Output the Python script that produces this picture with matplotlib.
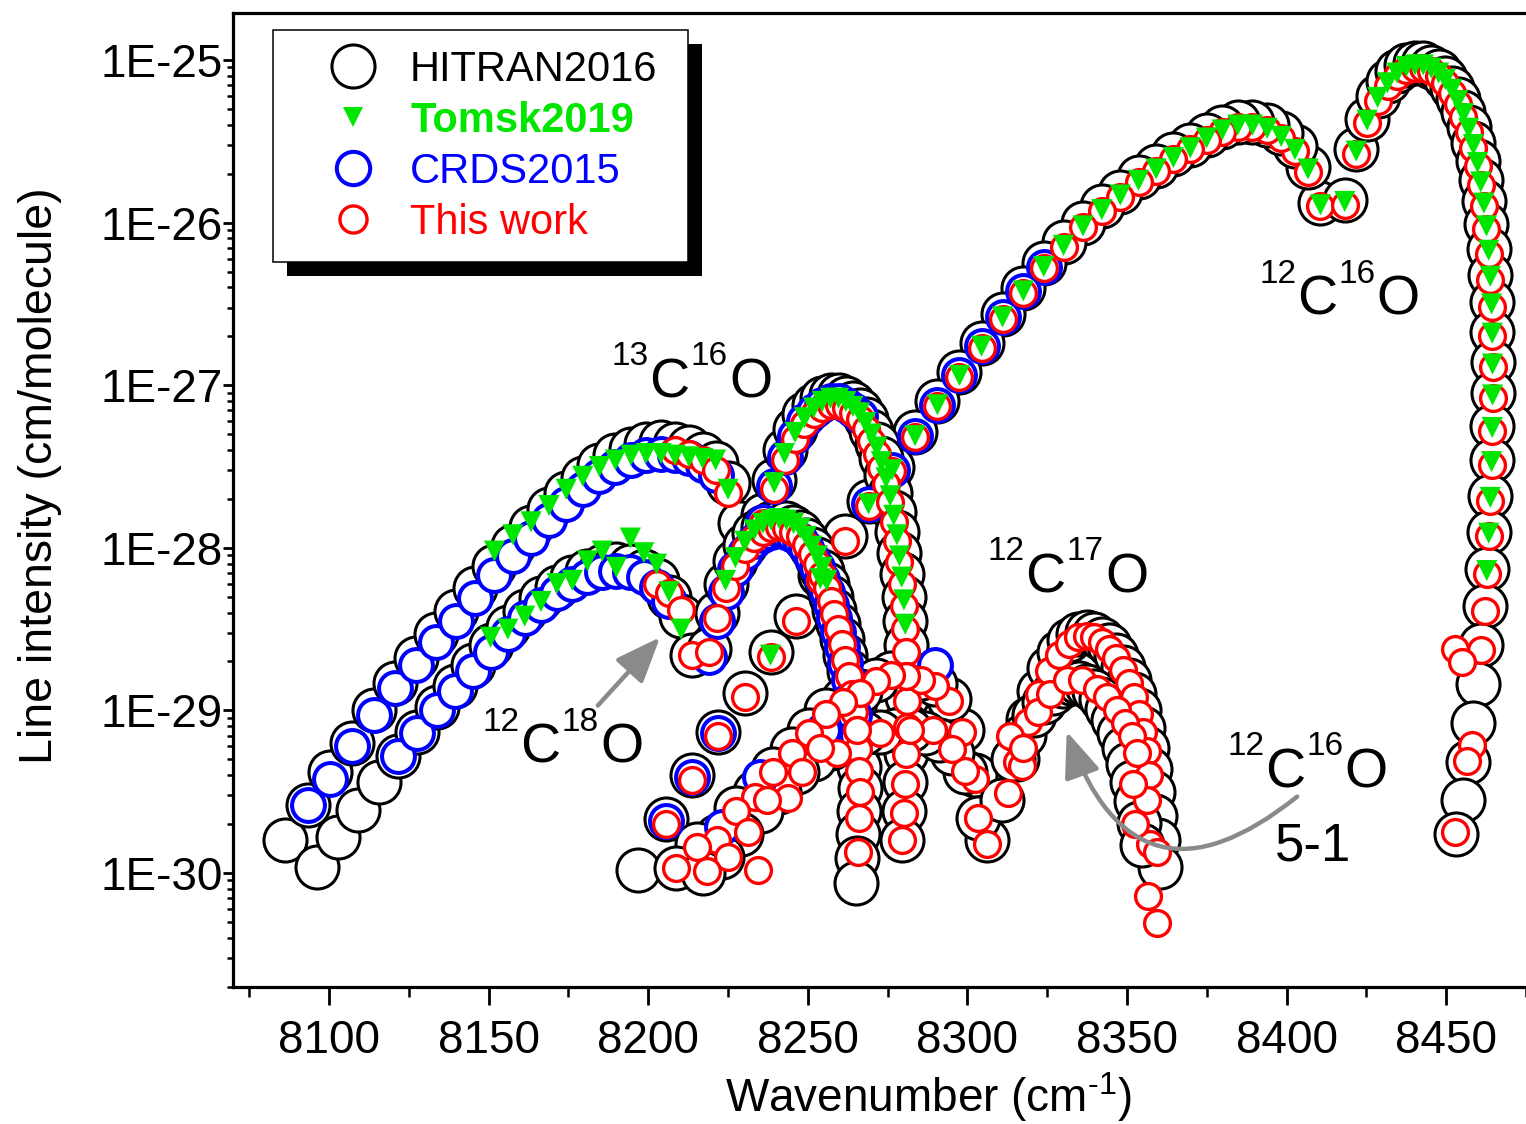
import numpy as np
import matplotlib
matplotlib.use('Agg')
import matplotlib.pyplot as plt
from matplotlib.lines import Line2D
from matplotlib.patches import Rectangle
from matplotlib.ticker import FixedLocator, FuncFormatter, MultipleLocator, NullFormatter

plt.rcParams['font.family'] = ['Liberation Sans', 'DejaVu Sans']
plt.rcParams['mathtext.fontset'] = 'custom'
plt.rcParams['mathtext.rm'] = 'Liberation Sans'
plt.rcParams['mathtext.default'] = 'regular'

# ------------------------------------------------------------------ data
# wavenumbers (cm-1) and log10 of line intensity (cm/molecule)

# 12C16O 4-0, P branch
co_P_wn = [8410.6, 8406.7, 8402.6, 8398.3, 8393.9, 8389.3, 8384.7, 8379.8, 8374.9, 8369.8,
           8364.5, 8359.1, 8353.6, 8347.9, 8342.1, 8336.2, 8330.1, 8323.9, 8317.5, 8311.0,
           8304.4, 8297.5, 8290.6, 8283.6, 8276.4, 8269.0, 8261.5, 8253.9, 8246.2, 8238.3,
           8230.2, 8222.0, 8213.8, 8205.4, 8196.7]
hit_co_P = [-25.88, -25.66, -25.53, -25.45, -25.40, -25.38, -25.38, -25.41, -25.46, -25.52,
            -25.58, -25.65, -25.72, -25.81, -25.90, -26.00, -26.12, -26.25, -26.40, -26.56,
            -26.74, -26.92, -27.10, -27.29, -27.50, -27.71, -27.93, -28.17, -28.42, -28.64,
            -28.89, -29.13, -29.40, -29.67, -29.98]
tw_co_P_wn = co_P_wn[:34]
tw_co_P = [-25.90, -25.69, -25.56, -25.48, -25.43, -25.41, -25.41, -25.44, -25.49, -25.55,
           -25.61, -25.68, -25.75, -25.84, -25.93, -26.03, -26.15, -26.28, -26.43, -26.59,
           -26.77, -26.95, -27.13, -27.32, -27.53, -27.74, -27.96, -28.20, -28.45, -28.67,
           -28.92, -29.16, -29.43, -29.70]
tk_co_P_wn = co_P_wn[:26] + [8253.9, 8238.3]
tk_co_P = [-25.89, -25.67, -25.55, -25.47, -25.42, -25.40, -25.40, -25.43, -25.48, -25.54,
           -25.60, -25.67, -25.74, -25.83, -25.92, -26.02, -26.14, -26.27, -26.42, -26.58,
           -26.76, -26.94, -27.12, -27.31, -27.52, -27.73, -28.19, -28.66]
cr_co_P_wn = [8323.9, 8317.5, 8311.0, 8304.4, 8297.5, 8290.6, 8283.6, 8276.4, 8269.0,
              8222.0, 8213.8, 8205.4]
cr_co_P = [-26.27, -26.42, -26.58, -26.76, -26.94, -27.12, -27.31, -27.52, -27.73,
           -29.14, -29.41, -29.68]

# 12C16O 4-0, R branch
co_R_wn = [8418.2, 8421.8, 8425.2, 8428.5, 8431.6, 8434.6, 8437.5, 8440.2, 8442.8, 8445.3,
           8447.6, 8449.7, 8451.8, 8453.6, 8455.4, 8457.0, 8458.5, 8459.8, 8460.8, 8461.8,
           8462.6, 8463.3, 8463.8, 8464.2, 8464.4, 8464.5, 8464.5, 8464.4, 8464.2, 8463.8,
           8463.3, 8462.7, 8462.0, 8461.0, 8459.8, 8458.4, 8456.9, 8455.2, 8453.0]
hit_co_R = [-25.86, -25.55, -25.36, -25.22, -25.13, -25.07, -25.03, -25.02, -25.02, -25.04,
            -25.07, -25.11, -25.17, -25.24, -25.32, -25.41, -25.51, -25.62, -25.74, -25.87,
            -26.01, -26.16, -26.32, -26.49, -26.67, -26.86, -27.05, -27.25, -27.46, -27.68,
            -27.90, -28.13, -28.36, -28.60, -28.84, -29.08, -29.32, -29.55, -29.76]
tw_co_R_wn = co_R_wn[:34] + [8452.6, 8455.0, 8458.2, 8456.4, 8452.6]
tw_co_R = [-25.89, -25.58, -25.39, -25.25, -25.16, -25.10, -25.06, -25.05, -25.05, -25.07,
           -25.10, -25.14, -25.20, -25.27, -25.35, -25.44, -25.54, -25.65, -25.77, -25.90,
           -26.04, -26.19, -26.35, -26.52, -26.70, -26.89, -27.08, -27.28, -27.49, -27.71,
           -27.93, -28.16, -28.39, -28.63, -28.62, -28.70, -29.21, -29.31, -29.75]
tk_co_R_wn = co_R_wn[:32]
tk_co_R = [-25.87, -25.56, -25.37, -25.23, -25.14, -25.08, -25.04, -25.03, -25.03, -25.05,
           -25.08, -25.12, -25.18, -25.25, -25.33, -25.42, -25.52, -25.63, -25.75, -25.88,
           -26.02, -26.17, -26.33, -26.50, -26.68, -26.87, -27.06, -27.26, -27.47, -27.69,
           -27.91, -28.14]

# 13C16O 4-0, P branch
c13_P_wn = [8086.2, 8093.4, 8100.4, 8107.3, 8114.0, 8120.7, 8127.2, 8133.5, 8139.7, 8145.8,
            8151.8, 8157.6, 8163.3, 8168.9, 8174.3, 8179.5, 8184.7, 8189.7, 8194.6, 8199.3,
            8204.0, 8208.4, 8212.8, 8217.0, 8221.1, 8225.0, 8228.8]
hit_c13_P = [-29.80, -29.58, -29.38, -29.20, -29.00, -28.83, -28.68, -28.53, -28.39, -28.25,
             -28.11, -27.99, -27.87, -27.76, -27.66, -27.57, -27.49, -27.43, -27.39, -27.36,
             -27.35, -27.36, -27.38, -27.42, -27.48, -27.60, -27.85]
cr_c13_P_wn = c13_P_wn[1:25]
cr_c13_P = [-29.58, -29.42, -29.22, -29.03, -28.86, -28.72, -28.58, -28.45, -28.31, -28.17,
            -28.05, -27.94, -27.83, -27.73, -27.64, -27.56, -27.50, -27.46, -27.43, -27.42,
            -27.43, -27.45, -27.49, -27.55]
tk_c13_P_wn = c13_P_wn[10:26]
tk_c13_P = [-28.02, -27.92, -27.84, -27.74, -27.64, -27.56, -27.50, -27.46, -27.43, -27.42,
            -27.42, -27.43, -27.44, -27.45, -27.46, -27.64]
tw_c13_P_wn = [8208.4, 8212.8, 8217.0, 8221.1, 8225.0]
tw_c13_P = [-27.40, -27.42, -27.46, -27.52, -27.66]

# 13C16O 4-0, R branch
c13_R_wn = [8236.0, 8239.5, 8242.7, 8246.0, 8248.9, 8251.8, 8254.5, 8257.1, 8259.6, 8261.9,
            8264.1, 8266.2, 8268.1, 8269.9, 8271.6, 8273.0, 8274.5, 8275.8, 8276.9, 8277.9,
            8278.7, 8279.4, 8280.1, 8280.5, 8280.9, 8281.0, 8281.1, 8281.0, 8280.8, 8280.5,
            8280.0, 8279.4]
hit_c13_R = [-27.80, -27.58, -27.40, -27.27, -27.18, -27.12, -27.08, -27.06, -27.06, -27.08,
             -27.11, -27.15, -27.21, -27.28, -27.36, -27.45, -27.55, -27.66, -27.78, -27.90,
             -28.03, -28.16, -28.30, -28.45, -28.60, -28.76, -28.92, -29.09, -29.26, -29.44,
             -29.62, -29.80]
tw_c13_R = [-27.85, -27.64, -27.46, -27.33, -27.24, -27.18, -27.14, -27.12, -27.12, -27.14,
            -27.17, -27.21, -27.27, -27.34, -27.42, -27.51, -27.61, -27.72, -27.84, -27.96,
            -28.09, -28.22, -28.36, -28.50, -28.64, -28.79, -28.94, -29.10, -29.27, -29.45,
            -29.63, -29.80]
tk_c13_R_wn = c13_R_wn[1:24]
tk_c13_R = [-27.60, -27.42, -27.29, -27.20, -27.14, -27.10, -27.08, -27.08, -27.10, -27.13,
            -27.17, -27.23, -27.30, -27.38, -27.47, -27.57, -27.68, -27.80, -27.92, -28.05,
            -28.18, -28.32, -28.47]
cr_c13_R_wn = c13_R_wn[:12]
cr_c13_R = [-27.84, -27.62, -27.44, -27.31, -27.22, -27.16, -27.12, -27.10, -27.10, -27.12,
            -27.15, -27.19]

# 12C18O 4-0, P branch
c18_P_wn = [8096.1, 8102.7, 8109.2, 8115.5, 8121.7, 8127.7, 8133.7, 8139.5, 8145.1, 8150.6,
            8156.0, 8161.3, 8166.4, 8171.4, 8176.2, 8180.9, 8185.6, 8190.0, 8194.4, 8198.6,
            8202.6, 8206.5, 8210.3, 8213.7]
hit_c18_P = [-29.96, -29.78, -29.61, -29.44, -29.28, -29.13, -28.98, -28.85, -28.72, -28.60,
             -28.49, -28.39, -28.31, -28.24, -28.18, -28.14, -28.11, -28.10, -28.11, -28.14,
             -28.20, -28.30, -28.42, -28.66]
cr_c18_P_wn = c18_P_wn[4:22]
cr_c18_P = [-29.28, -29.14, -29.00, -28.88, -28.76, -28.64, -28.53, -28.43, -28.35, -28.28,
            -28.22, -28.18, -28.15, -28.14, -28.15, -28.18, -28.24, -28.33]
tk_c18_P_wn = c18_P_wn[9:23]
tk_c18_P = [-28.55, -28.50, -28.42, -28.33, -28.22, -28.20, -28.08, -28.02, -28.12, -27.94,
            -28.03, -28.10, -28.27, -28.50]
tw_c18_P_wn = [8202.6, 8206.5, 8210.3, 8213.7]
tw_c18_P = [-28.22, -28.28, -28.38, -28.66]

# 12C18O 4-0, R branch
c18_R_wn = [8219.0, 8221.5, 8224.2, 8227.3, 8230.3, 8233.2, 8235.9, 8238.5, 8241.0, 8243.3,
            8245.5, 8247.6, 8249.5, 8251.3, 8253.0, 8254.5, 8255.9, 8257.2, 8258.3, 8259.5,
            8260.6, 8261.7, 8262.8, 8263.8, 8264.6, 8265.3, 8265.8, 8266.1, 8266.2, 8266.1,
            8265.8, 8265.4, 8265.0]
hit_c18_R = [-28.62, -28.40, -28.22, -28.08, -27.98, -27.91, -27.87, -27.85, -27.84, -27.85,
             -27.87, -27.90, -27.95, -28.01, -28.07, -28.14, -28.22, -28.30, -28.38, -28.47,
             -28.56, -28.66, -28.76, -28.87, -28.98, -29.10, -29.22, -29.35, -29.48, -29.62,
             -29.76, -29.91, -30.06]
tw_c18_R_wn = c18_R_wn[:31]
tw_c18_R = [-28.64, -28.43, -28.25, -28.11, -28.01, -27.94, -27.90, -27.88, -27.87, -27.88,
            -27.90, -27.93, -27.98, -28.04, -28.10, -28.17, -28.25, -28.33, -28.41, -28.50,
            -28.59, -28.69, -28.79, -28.90, -29.01, -29.12, -29.24, -29.37, -29.50, -29.66,
            -29.87]
tk_c18_R_wn = c18_R_wn[2:17]
tk_c18_R = [-28.20, -28.06, -27.96, -27.89, -27.85, -27.83, -27.82, -27.83, -27.85, -27.88,
            -27.93, -27.99, -28.05, -28.12, -28.20]
cr_c18_R_wn = c18_R_wn[:26]
cr_c18_R = [-28.67, -28.45, -28.27, -28.13, -28.03, -27.96, -27.92, -27.90, -27.89, -27.90,
            -27.92, -27.95, -28.00, -28.06, -28.12, -28.19, -28.27, -28.35, -28.43, -28.52,
            -28.61, -28.71, -28.81, -28.92, -29.03, -29.15]

# 12C17O 4-0, P branch
c17_P_wn = [8306.2, 8302.3, 8298.3, 8294.1, 8289.8, 8285.4, 8280.8, 8276.0, 8271.2, 8266.2,
            8261.1, 8255.8, 8250.4, 8244.9, 8239.2, 8233.4, 8227.4, 8221.4, 8215.2, 8208.8]
hit_c17_P = [-29.80, -29.40, -29.12, -28.93, -28.84, -28.80, -28.78, -28.77, -28.81, -28.88,
             -28.93, -29.00, -29.12, -29.24, -29.36, -29.50, -29.60, -29.77, -29.82, -29.97]
tw_c17_P = [-29.82, -29.42, -29.13, -28.94, -28.85, -28.81, -28.79, -28.78, -28.82, -28.89,
            -28.95, -29.02, -29.14, -29.26, -29.38, -29.53, -29.62, -29.80, -29.84, -29.97]
cr_c17_P_wn = [8289.8, 8254.7, 8235.0, 8223.0]
cr_c17_P = [-28.72, -29.12, -29.41, -29.72]

# 12C17O 4-0, R branch
c17_R_wn = [8315.6, 8319.1, 8322.5, 8325.7, 8328.8, 8331.8, 8334.6, 8337.3, 8339.8, 8342.2,
            8344.5, 8346.6, 8348.6, 8350.5, 8352.2, 8353.8, 8355.0, 8356.2, 8357.2, 8358.1,
            8358.9, 8359.6, 8360.2]
hit_c17_R = [-29.30, -29.05, -28.88, -28.74, -28.64, -28.57, -28.53, -28.52, -28.53, -28.56,
             -28.60, -28.66, -28.73, -28.81, -28.90, -29.00, -29.11, -29.23, -29.36, -29.50,
             -29.65, -29.80, -29.96]
tw_c17_R_wn = [8315.6, 8319.1, 8322.5, 8325.7, 8328.8, 8331.8, 8334.6, 8337.3, 8339.8, 8342.2,
               8344.5, 8346.6, 8348.6, 8350.5, 8352.2, 8353.8, 8355.0, 8356.2, 8357.0, 8356.2,
               8357.1, 8359.3, 8356.5, 8359.3]
tw_c17_R = [-29.32, -29.07, -28.90, -28.76, -28.66, -28.59, -28.55, -28.54, -28.55, -28.58,
            -28.62, -28.68, -28.75, -28.83, -28.92, -29.02, -29.13, -29.25, -29.40, -29.55,
            -29.82, -29.87, -30.14, -30.31]

# 12C16O 5-1 hot band, P branch
hb_P_wn = [8303.2, 8299.2, 8295.2, 8291.0, 8286.6, 8282.0, 8277.4, 8272.6, 8267.7, 8262.6,
           8257.4, 8252.0, 8246.5, 8240.9, 8235.2, 8229.2, 8223.2, 8217.0]
hit_hb_P = [-29.66, -29.38, -29.26, -29.18, -29.14, -29.12, -29.12, -29.13, -29.14, -29.18,
            -29.23, -29.30, -29.38, -29.50, -29.62, -29.76, -29.90, -30.00]
tw_hb_P_wn = [8303.2, 8299.2, 8295.2, 8289.2, 8282.0, 8272.6, 8265.4, 8259.1, 8253.8, 8248.1,
              8243.8, 8237.2, 8231.2, 8225.0, 8218.4, 8234.4]
tw_hb_P = [-29.66, -29.37, -29.24, -29.12, -29.12, -29.14, -29.12, -29.26, -29.23, -29.38,
           -29.54, -29.55, -29.75, -29.90, -29.99, -29.98]

# 12C16O 5-1 hot band, R branch
hb_R_wn = [8310.7, 8314.2, 8317.6, 8320.8, 8324.0, 8326.9, 8329.8, 8332.4, 8335.0, 8337.4,
           8339.7, 8341.8, 8343.8, 8345.6, 8347.4, 8348.9, 8350.3, 8351.6, 8352.8, 8353.8,
           8354.7]
hit_hb_R = [-29.55, -29.30, -29.15, -29.03, -28.95, -28.89, -28.85, -28.83, -28.83, -28.85,
            -28.88, -28.93, -28.99, -29.06, -29.14, -29.23, -29.33, -29.44, -29.56, -29.69,
            -29.83]
tw_hb_R_wn = [8312.6, 8313.3, 8317.0, 8317.3, 8322.0, 8326.0, 8331.1, 8335.8, 8340.5, 8343.6,
              8346.8, 8349.3, 8351.5, 8353.1, 8351.8, 8352.5]
tw_hb_R = [-29.51, -29.16, -29.34, -29.23, -29.01, -28.90, -28.81, -28.81, -28.87, -28.92,
           -29.00, -29.08, -29.16, -29.26, -29.45, -29.70]

series_labels = ['HITRAN2016', 'Tomsk2019', 'CRDS2015', 'This work']
tick_wn = [8100, 8150, 8200, 8250, 8300, 8350, 8400, 8450]
tick_decades = [-30, -29, -28, -27, -26, -25]

# ------------------------------------------------------------------ assemble
def cat(*pairs):
    w, l = [], []
    for a, b in pairs:
        w += list(a)
        l += list(b)
    return np.array(w), 10.0 ** np.array(l)

hit_x, hit_y = cat((co_P_wn, hit_co_P), (co_R_wn, hit_co_R), (c13_P_wn, hit_c13_P),
                   (c13_R_wn, hit_c13_R), (c18_P_wn, hit_c18_P), (c18_R_wn, hit_c18_R),
                   (c17_P_wn, hit_c17_P), (c17_R_wn, hit_c17_R), (hb_P_wn, hit_hb_P),
                   (hb_R_wn, hit_hb_R))
cr_x, cr_y = cat((cr_co_P_wn, cr_co_P), (cr_c13_P_wn, cr_c13_P), (cr_c13_R_wn, cr_c13_R),
                 (cr_c18_P_wn, cr_c18_P), (cr_c18_R_wn, cr_c18_R), (cr_c17_P_wn, cr_c17_P))
tw_x, tw_y = cat((tw_co_P_wn, tw_co_P), (tw_co_R_wn, tw_co_R), (tw_c13_P_wn, tw_c13_P),
                 (c13_R_wn, tw_c13_R), (tw_c18_P_wn, tw_c18_P), (tw_c18_R_wn, tw_c18_R),
                 (c17_P_wn, tw_c17_P), (tw_c17_R_wn, tw_c17_R), (tw_hb_P_wn, tw_hb_P),
                 (tw_hb_R_wn, tw_hb_R))
tk_x, tk_y = cat((tk_co_P_wn, tk_co_P), (tk_co_R_wn, tk_co_R), (tk_c13_P_wn, tk_c13_P),
                 (tk_c13_R_wn, tk_c13_R), (tk_c18_P_wn, tk_c18_P), (tk_c18_R_wn, tk_c18_R))

# ------------------------------------------------------------------ figure
GREEN = '#00E600'
GRAY = '#8A8A8A'
W, H = 1526, 1124
fig = plt.figure(figsize=(W / 100, H / 100), dpi=100)
ax = fig.add_axes([233 / W, 137 / H, 1309 / W, 974.3 / H])

ax.scatter(hit_x, hit_y, s=960, facecolors='white', edgecolors='black', linewidths=2.2, zorder=2)
ax.scatter(cr_x, cr_y, s=560, facecolors='white', edgecolors='#0000FF', linewidths=2.9, zorder=3)
ax.scatter(tw_x, tw_y, s=345, facecolors='white', edgecolors='#FF0000', linewidths=2.4, zorder=4)
ax.scatter(tk_x, tk_y, s=230, marker='v', facecolors=GREEN, edgecolors='none', zorder=5)

ax.set_yscale('log')
ylo, yhi = 10 ** -30.701, 10 ** -24.709
ax.set_xlim(8069.9, 8480)
ax.set_ylim(ylo, yhi)

ax.set_xticks(tick_wn)
ax.xaxis.set_minor_locator(MultipleLocator(25))
ax.yaxis.set_major_locator(FixedLocator([10.0 ** e for e in tick_decades]))
minor_y = [m * 10.0 ** e for e in range(-31, -24) for m in range(2, 10)
           if ylo <= m * 10.0 ** e <= yhi]
ax.yaxis.set_minor_locator(FixedLocator(minor_y))
ax.yaxis.set_major_formatter(FuncFormatter(lambda v, p: '1E%d' % int(round(np.log10(v)))))
ax.yaxis.set_minor_formatter(NullFormatter())

ax.tick_params(axis='both', which='major', labelsize=33, width=2.0, direction='out')
ax.tick_params(axis='both', which='minor', width=1.8, direction='out')
ax.tick_params(axis='x', which='major', length=13, pad=10)
ax.tick_params(axis='x', which='minor', length=7)
ax.tick_params(axis='y', which='major', length=7, pad=0.5)
ax.tick_params(axis='y', which='minor', length=4)
for sp in ax.spines.values():
    sp.set_linewidth(2.3)

ax.set_xlabel('Wavenumber (cm$^{\\text{-}1}$)', fontsize=33)
ax.set_ylabel('Line intensity (cm/molecule)', fontsize=33.5)
ax.xaxis.set_label_coords((928 - 233) / 1309, -(1070 - 987) / 974.3)
ax.yaxis.set_label_coords(-(233 - 62) / 1309, 0.525)

# isotopologue labels built from pieces (small superscripts)
def iso_label(x, lg, m1, m2, size=40, sub=24, rise=23):
    y = 10 ** lg
    ws = 0.556 * len(m1) * sub
    wc = 0.722 * size
    ws2 = 0.556 * len(m2) * sub
    kw = dict(xy=(x, y), xycoords='data', textcoords='offset points',
              ha='left', va='baseline', color='black', zorder=6)
    ax.annotate(m1, xytext=(0, rise), fontsize=sub, **kw)
    ax.annotate('C', xytext=(ws, 0), fontsize=size, **kw)
    ax.annotate(m2, xytext=(ws + wc + 1, rise), fontsize=sub, **kw)
    ax.annotate('O', xytext=(ws + wc + ws2 + 2, 0), fontsize=size, **kw)

iso_label(8188.6, -27.073, '13', '16')
iso_label(8148.2, -29.323, '12', '18')
iso_label(8306.4, -28.272, '12', '17')
iso_label(8391.6, -26.568, '12', '16')
iso_label(8381.5, -29.471, '12', '16')
ax.annotate('5-1', xy=(8396.3, 10 ** -29.92), ha='left', va='baseline', fontsize=38, zorder=6)

# arrows
ax.annotate('', xy=(8203.7, 10 ** -28.55), xytext=(8184.2, 10 ** -28.97),
            arrowprops=dict(arrowstyle='-|>,head_length=1.0,head_width=0.4', mutation_scale=28,
                            color=GRAY, lw=3.2, shrinkA=0, shrinkB=0), zorder=6)
ax.annotate('', xy=(8331.1, 10 ** -29.13), xytext=(8403.3, 10 ** -29.53),
            arrowprops=dict(arrowstyle='-|>,head_length=1.0,head_width=0.4', mutation_scale=28,
                            color=GRAY, lw=3.2, shrinkA=0, shrinkB=0,
                            connectionstyle='arc3,rad=-0.7'), zorder=6)

# legend (fixed box 415 x 232 px, top-left at (273, 30) px)
handles = [
    Line2D([], [], ls='none', marker='o', ms=31, mfc='white', mec='black', mew=2.2),
    Line2D([], [], ls='none', marker='v', ms=15, mfc=GREEN, mec=GREEN, mew=0),
    Line2D([], [], ls='none', marker='o', ms=24, mfc='white', mec='#0000FF', mew=2.9),
    Line2D([], [], ls='none', marker='o', ms=19.5, mfc='white', mec='#FF0000', mew=2.4),
]
leg = ax.legend(handles, series_labels, loc='upper left', mode='expand',
                bbox_to_anchor=(273 / W, 1 - 262 / H, 415 / W, 232 / H),
                bbox_transform=fig.transFigure,
                borderaxespad=0, fontsize=30, frameon=True, fancybox=False, framealpha=1,
                borderpad=0.47, labelspacing=0.265, handlelength=2.9, handletextpad=-0.08,
                numpoints=1)
leg.set_zorder(10)
fr = leg.get_frame()
fr.set_edgecolor('black')
fr.set_linewidth(1.1)
for t, c in zip(leg.get_texts(), ['black', GREEN, '#0000FF', '#FF0000']):
    t.set_color(c)
leg.get_texts()[1].set_fontweight('bold')

fig.canvas.draw()
bb = leg.get_window_extent()
inv = fig.transFigure.inverted()
(x0, y0), (x1, y1) = inv.transform([(bb.x0 + 14, bb.y0 - 14), (bb.x1 + 14, bb.y1 - 14)])
ax.add_patch(Rectangle((x0, y0), x1 - x0, y1 - y0, transform=fig.transFigure,
                       facecolor='black', edgecolor='none', zorder=9, clip_on=False))

fig.savefig('out.png', dpi=100)
